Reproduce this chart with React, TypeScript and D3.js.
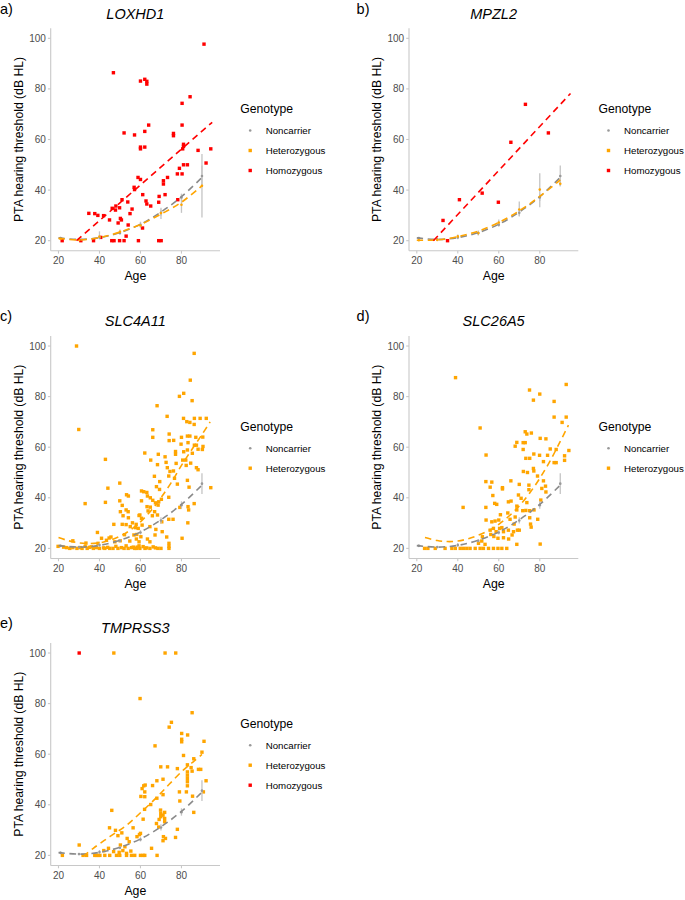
import React from "react";
import * as d3 from "d3";

// ---------- shared axes ----------
const AGE_TICKS = [20, 40, 60, 80];
const PTA_TICKS = [20, 40, 60, 80, 100];
const AGE_DOMAIN = [16.2, 98.8];
const PTA_DOMAIN = [16, 104];

// ---------- noncarrier reference (binned means ± error) ----------
const GROUP_AGE = [21, 30, 40, 50, 60, 70, 80, 90];
const NONCARRIER_MEAN = [21.0, 20.5, 21.3, 23.0, 26.3, 31.0, 37.1, 45.6];
const NONCARRIER_LO = [20.5, 20.2, 20.6, 22.4, 25.5, 29.8, 35.7, 41.5];
const NONCARRIER_HI = [21.5, 20.8, 22.1, 23.6, 27.2, 32.3, 38.6, 49.7];
const FIT_AGE = [20, 30, 40, 50, 60, 70, 80, 90];
const NONCARRIER_FIT = [21.1, 20.5, 21.2, 23.2, 26.5, 31.3, 37.4, 45.0];

// ---------- LOXHD1 ----------
const LOX_HET_MEAN = [20.8, 20.3, 21.6, 23.5, 26.0, 30.9, 34.2, 41.7];
const LOX_HET_LO = [20.4, 20.0, 20.6, 22.6, 25.0, 28.6, 31.0, 29.2];
const LOX_HET_HI = [21.2, 20.6, 23.7, 24.4, 27.5, 33.0, 38.3, 54.3];
const LOX_HET_FIT = [20.9, 20.3, 21.2, 23.4, 26.4, 30.5, 35.2, 41.7];
const LOX_HOM_FIT = [[28.8, 20], [95.0, 66.8]];
const LOX_HOM = [
  [91.0, 97.7], [46.8, 86.4], [60.0, 83.1], [62.1, 83.8], [63.1, 83.0], [63.1, 81.9],
  [84.2, 76.9], [80.3, 74.3], [80.3, 65.7], [64.0, 65.7], [52.0, 62.6], [57.1, 61.8],
  [62.1, 63.2], [76.1, 62.4], [76.1, 61.5], [60.0, 57.0], [60.0, 56.3], [62.1, 57.0],
  [81.0, 58.1], [81.0, 57.3], [80.6, 56.3], [88.1, 55.7], [94.3, 56.3], [92.0, 50.7],
  [81.0, 50.0], [82.9, 50.0], [79.0, 48.6], [78.0, 46.4], [80.3, 46.4], [73.2, 45.0],
  [71.2, 43.7], [71.2, 42.4], [58.8, 45.0], [60.0, 44.2], [56.9, 41.1], [57.1, 40.2],
  [61.1, 38.2], [72.0, 38.2], [69.1, 37.5], [62.7, 35.7], [63.1, 34.5], [65.0, 33.7],
  [68.9, 35.2], [78.2, 36.2], [51.0, 36.2], [53.8, 35.3], [55.9, 32.5], [48.0, 33.7],
  [49.8, 33.0], [47.8, 32.1], [46.2, 32.8], [34.8, 30.8], [37.7, 30.7], [39.2, 30.0],
  [42.0, 29.9], [44.9, 28.2], [50.2, 28.8], [50.7, 28.2], [54.9, 30.7], [49.1, 27.0],
  [54.0, 26.2], [53.0, 21.8], [61.0, 25.0], [40.6, 21.3], [21.8, 20.0], [30.9, 20.0],
  [37.1, 20.0], [46.0, 20.0], [47.1, 20.0], [49.8, 20.0], [52.0, 20.0], [59.0, 20.0],
  [68.9, 20.0], [70.1, 20.0],
];

// ---------- MPZL2 ----------
const MPZ_HET_MEAN = [20.2, 20.3, 21.7, 23.0, 27.2, 32.3, 40.2, 42.5];
const MPZ_HET_LO = [19.9, 20.0, 21.0, 22.0, 26.0, 29.6, 33.2, 41.5];
const MPZ_HET_HI = [20.5, 20.6, 22.4, 24.0, 28.4, 35.5, 46.7, 43.5];
const MPZ_HET_FIT = [20.2, 20.3, 21.6, 23.8, 27.2, 31.8, 37.5, 44.0];
const MPZ_HOM_FIT = [[28.1, 20], [95.0, 78.2]];
const MPZ_HOM = [
  [32.8, 28.0], [40.8, 36.2], [35.0, 20.0], [51.9, 38.8], [59.8, 35.2],
  [65.9, 58.9], [73.0, 73.9], [84.2, 62.6],
];

// ---------- SLC4A11 ----------
const SLC4_FIT = [
  [20, 24.3], [25, 23.0], [30, 22.2], [35, 21.9], [40, 22.2], [45, 23.2], [50, 24.8],
  [55, 27.2], [60, 30.5], [65, 34.8], [70, 40.0], [75, 46.0], [80, 52.8], [85, 59.0],
  [90, 65.0], [94, 70.0],
];
const SLC4_HET = [
  [28.8, 100.0], [29.9, 67.0], [42.9, 55.2], [44.1, 43.8], [42.9, 38.2], [33.0, 37.7],
  [49.9, 45.8], [53.2, 41.2], [54.1, 40.7], [49.9, 38.8], [51.1, 37.0], [50.2, 34.5],
  [53.0, 35.2], [54.0, 34.5], [51.5, 32.9], [54.1, 32.1], [47.0, 29.5], [51.1, 29.5],
  [53.0, 29.4], [56.1, 30.1], [55.0, 28.6], [57.6, 28.2], [59.3, 33.0], [39.0, 26.3],
  [41.0, 24.0], [45.6, 24.5], [44.7, 24.1], [50.1, 23.0], [52.2, 25.4], [56.8, 25.3],
  [27.0, 23.0], [19.8, 20.8], [23.9, 20.3], [27.0, 20.3], [33.4, 22.1], [39.3, 22.0],
  [43.4, 23.2], [47.5, 22.6], [54.8, 22.9], [58.0, 23.7],
  [29.0, 20.0], [30.5, 20.3], [33.0, 20.8], [34.0, 20.0], [35.0, 20.4], [37.0, 20.0],
  [38.5, 20.3], [40.0, 20.0], [42.0, 20.2], [42.6, 20.0], [44.0, 20.4], [46.6, 20.0],
  [48.0, 20.8], [49.0, 20.0], [50.7, 20.3], [53.0, 21.0], [54.0, 20.0], [55.7, 20.3],
  [57.2, 20.0], [58.4, 20.5], [59.3, 21.0],
  [86.2, 97.1], [84.3, 86.5], [79.0, 80.1], [81.1, 81.3], [85.2, 78.4], [68.1, 76.4],
  [73.0, 72.2], [81.0, 71.4], [82.6, 70.1], [84.1, 69.8], [86.3, 71.4], [86.2, 69.0],
  [89.1, 71.4], [92.1, 71.4], [66.0, 66.9], [66.0, 63.9], [74.0, 65.2], [74.0, 62.6],
  [76.2, 62.7], [80.0, 63.9], [82.9, 64.4], [84.1, 64.4], [87.0, 63.9], [90.4, 64.0],
  [87.3, 60.8], [90.5, 60.3], [90.2, 59.1], [83.2, 61.8], [79.8, 61.2], [77.1, 58.3],
  [77.1, 57.2], [62.1, 57.7], [68.7, 57.2], [81.1, 58.2], [82.9, 58.9], [85.3, 57.6],
  [86.3, 60.8], [88.1, 59.2], [65.0, 54.9], [72.0, 56.2], [72.5, 54.0], [80.6, 54.9],
  [82.1, 54.9], [84.5, 53.7], [68.3, 53.1], [73.1, 51.9], [74.4, 50.4], [76.1, 50.6],
  [77.4, 53.6], [82.3, 52.8], [87.3, 51.9], [88.1, 51.1], [66.8, 48.5], [73.8, 48.6],
  [76.6, 47.7], [69.4, 46.4], [67.8, 44.4], [69.3, 43.3], [78.0, 45.4], [82.9, 46.9],
  [83.7, 44.2], [60.5, 42.7], [61.6, 42.4], [63.1, 42.1], [64.8, 40.0], [66.0, 39.0],
  [67.3, 38.0], [68.6, 37.1], [68.9, 38.4], [73.8, 40.2], [63.4, 40.7], [60.5, 38.8],
  [70.2, 39.4], [79.2, 36.2], [83.2, 36.5], [83.5, 35.2], [86.2, 37.7], [63.2, 36.5],
  [64.8, 36.3], [66.9, 34.5], [63.7, 34.8], [59.7, 33.2], [60.5, 31.9], [65.8, 32.9],
  [68.3, 33.2], [73.8, 31.5], [75.9, 31.5], [70.4, 30.5], [60.8, 29.2], [64.6, 28.6],
  [67.5, 27.5], [70.6, 26.6], [67.1, 25.3], [72.8, 24.5], [80.3, 24.0], [83.1, 30.1],
  [94.3, 44.0], [57.9, 29.5], [58.9, 27.9], [58.2, 25.5], [60.2, 24.6], [63.4, 23.7],
  [64.6, 22.6], [59.3, 22.6], [73.9, 22.0], [73.9, 20.8],
  [58.0, 20.0], [59.7, 20.0], [61.3, 20.7], [63.0, 20.2], [64.6, 20.0], [66.2, 20.6],
  [67.3, 20.2], [73.9, 20.0], [68.5, 20.0], [70.0, 20.0], [22.5, 20.5], [25.5, 20.0],
  [31.5, 20.0], [36.0, 20.6], [45.0, 20.0], [52.0, 20.0], [56.5, 20.5], [62.2, 20.0],
];

// ---------- SLC26A5 ----------
const SLC26_FIT = [
  [24, 24.3], [30, 23.1], [35, 22.7], [40, 22.9], [45, 23.8], [50, 25.2], [55, 27.0],
  [60, 29.5], [65, 32.8], [70, 36.8], [75, 41.8], [80, 47.7], [85, 54.5], [90, 62.3],
  [94, 68.7],
];
const SLC26_HET = [
  [38.9, 87.5], [75.0, 82.6], [80.0, 81.0], [76.9, 78.6], [87.0, 78.1], [92.9, 84.8],
  [87.0, 71.9], [92.9, 71.9], [90.9, 69.8], [50.9, 67.6], [72.9, 66.1], [75.9, 65.6],
  [73.7, 65.2], [68.8, 61.9], [71.9, 61.8], [72.9, 61.8], [80.2, 63.5], [83.0, 63.3],
  [68.0, 60.4], [71.9, 59.1], [85.1, 59.3], [88.0, 59.1], [94.2, 58.7], [92.1, 56.6],
  [77.1, 57.3], [79.9, 56.8], [83.8, 56.8], [73.2, 55.6], [75.1, 55.6], [92.1, 54.8],
  [53.8, 56.9], [76.9, 51.6], [77.1, 50.6], [81.8, 54.3], [87.0, 53.9], [88.0, 53.9],
  [72.0, 50.4], [74.0, 50.0], [53.7, 46.4], [56.6, 46.2], [55.8, 44.2], [61.8, 43.5],
  [61.8, 44.0], [65.9, 46.7], [70.0, 45.3], [74.7, 45.0], [81.8, 46.7], [81.0, 43.7],
  [82.8, 44.6], [78.9, 48.6], [57.1, 40.9], [74.7, 43.2], [69.6, 41.1], [64.7, 38.4],
  [66.0, 38.7], [58.0, 37.8], [59.0, 37.4], [53.7, 36.2], [42.6, 36.2], [70.9, 39.8],
  [73.7, 38.1], [83.0, 42.3], [80.5, 39.1], [71.7, 34.9], [68.8, 35.2], [68.8, 36.7],
  [73.2, 35.0], [75.1, 34.9], [77.2, 35.2], [64.4, 34.0], [60.8, 33.3], [53.8, 31.2],
  [56.6, 30.5], [58.2, 30.8], [60.0, 31.2], [68.0, 32.4], [75.1, 32.1], [79.0, 31.5],
  [75.5, 29.6], [75.8, 28.4], [65.5, 31.5], [67.5, 29.6], [69.1, 27.2], [70.0, 27.2],
  [55.8, 27.2], [57.4, 27.9], [60.4, 27.9], [61.5, 28.2], [58.7, 26.6], [62.3, 26.6],
  [64.7, 27.2], [67.2, 26.6], [56.1, 25.5], [52.0, 24.6], [57.6, 24.7], [59.6, 24.0],
  [62.3, 24.2], [64.8, 23.7], [66.5, 25.3], [68.8, 21.6], [80.2, 21.7], [50.1, 22.0],
  [51.7, 22.9], [53.3, 21.6],
  [23.8, 20.0], [25.4, 20.0], [29.0, 20.0], [33.8, 20.0], [37.1, 20.0], [38.8, 20.0],
  [41.2, 20.0], [42.8, 20.0], [44.4, 20.0], [46.0, 20.0], [48.5, 20.0], [50.9, 20.0],
  [52.5, 20.0], [55.0, 20.0], [57.4, 20.0], [59.6, 20.0], [61.5, 20.0], [63.9, 20.0],
];

// ---------- TMPRSS3 ----------
const TMP_FIT = [
  [32, 19.6], [37, 22.8], [45, 27.4], [53, 31.8], [61, 37.6], [68, 43.0], [74, 48.1],
  [81, 53.8], [86, 57.2], [90, 59.9],
];
const TMP_HOM = [[30.1, 100.0]];
const TMP_HET = [
  [47.0, 100.0], [72.0, 100.0], [77.2, 100.0], [59.8, 82.0], [85.2, 76.4], [75.1, 72.6],
  [74.0, 70.7], [80.1, 68.2], [80.1, 65.9], [80.1, 64.9], [83.0, 67.6], [91.0, 65.1],
  [67.1, 63.3], [81.0, 59.5], [90.0, 60.8], [86.0, 58.2], [88.3, 54.0], [89.4, 54.0],
  [69.9, 55.0], [73.2, 55.0], [78.0, 54.3], [82.9, 55.8], [84.7, 54.7], [82.9, 53.0],
  [82.9, 51.7], [82.9, 50.4], [82.9, 49.1], [82.9, 47.5], [85.2, 53.3], [71.0, 50.1],
  [68.0, 49.5], [65.9, 47.6], [61.6, 47.5], [62.3, 47.8], [60.8, 46.4], [62.1, 45.1],
  [62.1, 43.2], [60.2, 43.3], [71.0, 44.0], [68.0, 42.6], [79.0, 45.1], [82.4, 45.1],
  [92.0, 49.5], [79.2, 41.5], [86.0, 37.0], [85.4, 43.4], [90.7, 45.1], [65.0, 40.1],
  [62.0, 38.2], [69.8, 37.9], [71.8, 37.0], [69.9, 36.6], [71.0, 35.9], [69.9, 35.3],
  [71.8, 34.6], [69.1, 34.2], [71.8, 33.3], [67.8, 32.6], [68.9, 31.2], [71.2, 27.4],
  [72.2, 26.7], [71.0, 25.8], [78.0, 30.3], [77.1, 27.1], [46.0, 37.8], [44.9, 30.9],
  [47.8, 29.9], [49.0, 27.8], [50.9, 28.9], [56.4, 30.9], [61.3, 34.3], [59.5, 28.2],
  [58.3, 27.4], [60.0, 28.7], [53.5, 26.7], [54.5, 25.4], [50.2, 24.1], [44.4, 22.8],
  [42.1, 21.9], [52.4, 23.4], [55.3, 21.7], [65.4, 22.8], [30.1, 24.1], [46.9, 21.5],
  [49.6, 21.2], [51.4, 21.9], [53.2, 20.8],
  [21.9, 20.0], [32.0, 20.0], [33.7, 20.0], [37.7, 20.0], [38.5, 20.0], [39.4, 20.0],
  [40.2, 20.0], [42.6, 20.0], [45.0, 20.0], [48.3, 20.0], [49.9, 20.0], [53.2, 20.0],
  [55.6, 20.0], [57.2, 20.0], [60.0, 20.0], [61.3, 20.0], [62.1, 20.0], [68.1, 20.0],
];

// ---------- style ----------
const C_NON = "#999999";
const C_NON_LINE = "#8a8a8a";
const C_HET = "#FFA500";
const C_HOM = "#FF0000";
const C_ERR = "#c4c4c4";
const C_AXIS = "#c8c8c8";
const FONT = "'Liberation Sans', Arial, Helvetica, sans-serif";
const W = 169.3;
const H = 222.6;

type Pt = number[];

function Panel(props: any) {
  const { label, title, left, top, hetPts, homPts, hetMean, hetLo, hetHi, hetFit, homFit, legend } = props;
  const x = d3.scaleLinear().domain(AGE_DOMAIN).range([left, left + W]);
  const y = d3.scaleLinear().domain(PTA_DOMAIN).range([top + H, top]);
  const bottom = top + H;
  const line = d3
    .line<Pt>()
    .x((d) => x(d[0]))
    .y((d) => y(d[1]))
    .curve(d3.curveCatmullRom);
  const straight = d3
    .line<Pt>()
    .x((d) => x(d[0]))
    .y((d) => y(d[1]));
  const nonFit = FIT_AGE.map((a, i) => [a, NONCARRIER_FIT[i]]);
  const sq = 3.4;
  const cy = top + H / 2;
  const n = legend.length;
  const entryY = (i: number) => cy + (i - (n - 1) / 2) * 20 + 11;
  const dash = "6.5 4.5";

  return (
    <g>
      <text x={left - 50.7 + (left > 300 ? -1.7 : 0)} y={top - 14.5} fontSize={14.5} fontFamily={FONT} fill="#000">
        {label}
      </text>
      <text x={left + W / 2} y={top - 9.5} fontSize={14.5} fontStyle="italic" textAnchor="middle" fontFamily={FONT} fill="#000">
        {title}
      </text>
      {/* axes */}
      <line x1={left} x2={left} y1={top} y2={bottom} stroke={C_AXIS} strokeWidth={1.1} />
      <line x1={left} x2={left + W} y1={bottom} y2={bottom} stroke={C_AXIS} strokeWidth={1.1} />
      {PTA_TICKS.map((t) => (
        <g key={"y" + t}>
          <line x1={left - 2.8} x2={left} y1={y(t)} y2={y(t)} stroke={C_AXIS} strokeWidth={1.1} />
          <text x={left - 4.8} y={y(t) + 3.5} fontSize={10} textAnchor="end" fill="#4d4d4d" fontFamily={FONT}>
            {t}
          </text>
        </g>
      ))}
      {AGE_TICKS.map((t) => (
        <g key={"x" + t}>
          <line x1={x(t)} x2={x(t)} y1={bottom} y2={bottom + 2.8} stroke={C_AXIS} strokeWidth={1.1} />
          <text x={x(t)} y={bottom + 13.5} fontSize={10} textAnchor="middle" fill="#4d4d4d" fontFamily={FONT}>
            {t}
          </text>
        </g>
      ))}
      <text x={left + W / 2} y={bottom + 29} fontSize={12.3} textAnchor="middle" fontFamily={FONT} fill="#000">
        Age
      </text>
      <text
        transform={`translate(${left - 28.2},${cy}) rotate(-90)`}
        fontSize={12.2}
        textAnchor="middle"
        fontFamily={FONT}
        fill="#000"
      >
        PTA hearing threshold (dB HL)
      </text>

      {/* heterozygous scatter */}
      {hetPts &&
        hetPts.map((d: Pt, i: number) => (
          <rect key={"h" + i} x={x(d[0]) - sq / 2} y={y(d[1]) - sq / 2} width={sq} height={sq} fill={C_HET} />
        ))}
      {/* homozygous scatter */}
      {homPts &&
        homPts.map((d: Pt, i: number) => (
          <rect key={"o" + i} x={x(d[0]) - sq / 2} y={y(d[1]) - sq / 2} width={sq} height={sq} fill={C_HOM} />
        ))}

      {/* error bars */}
      {hetMean &&
        GROUP_AGE.map((a, i) => (
          <line key={"he" + i} x1={x(a)} x2={x(a)} y1={y(hetLo[i])} y2={y(hetHi[i])} stroke={C_ERR} strokeWidth={1.3} />
        ))}
      {GROUP_AGE.map((a, i) => (
        <line key={"ne" + i} x1={x(a)} x2={x(a)} y1={y(NONCARRIER_LO[i])} y2={y(NONCARRIER_HI[i])} stroke={C_ERR} strokeWidth={1.3} />
      ))}
      {GROUP_AGE.map((a, i) => (
        <circle key={"np" + i} cx={x(a)} cy={y(NONCARRIER_MEAN[i])} r={1.3} fill={C_NON} />
      ))}
      {hetMean &&
        GROUP_AGE.map((a, i) => <circle key={"hp" + i} cx={x(a)} cy={y(hetMean[i])} r={1.3} fill={C_HET} />)}

      {/* fits */}
      <path d={line(nonFit) || ""} fill="none" stroke={C_NON_LINE} strokeWidth={1.6} strokeDasharray={dash} />
      {hetFit && <path d={line(hetFit) || ""} fill="none" stroke={C_HET} strokeWidth={1.6} strokeDasharray={dash} />}
      {homFit && <path d={straight(homFit) || ""} fill="none" stroke={C_HOM} strokeWidth={1.6} strokeDasharray={dash} />}

      {/* legend */}
      <text x={left + 189.5} y={entryY(0) - 17.5} fontSize={12.2} fontFamily={FONT} fill="#000">
        Genotype
      </text>
      {legend.map((name: string, i: number) => {
        const ky = entryY(i);
        const kx = left + 199.5;
        return (
          <g key={name}>
            {name === "Noncarrier" ? (
              <circle cx={kx} cy={ky} r={1.3} fill={C_NON} />
            ) : (
              <rect x={kx - sq / 2} y={ky - sq / 2} width={sq} height={sq} fill={name === "Heterozygous" ? C_HET : C_HOM} />
            )}
            <text x={left + 215} y={ky + 3.5} fontSize={9.7} fontFamily={FONT} fill="#000">
              {name}
            </text>
          </g>
        );
      })}
    </g>
  );
}

const LEG3 = ["Noncarrier", "Heterozygous", "Homozygous"];
const LEG2 = ["Noncarrier", "Heterozygous"];

export default function App() {
  const toPts = (ages: number[], vals: number[]) => ages.map((a, i) => [a, vals[i]]);
  return (
    <div style={{ position: "absolute", left: 0, top: 0 }}>
      <svg width={685} height={900} style={{ display: "block", background: "#fff" }}>
        <Panel
          label="a)"
          title="LOXHD1"
          left={50.7}
          top={28.2}
          homPts={LOX_HOM}
          hetMean={LOX_HET_MEAN}
          hetLo={LOX_HET_LO}
          hetHi={LOX_HET_HI}
          hetFit={toPts(FIT_AGE, LOX_HET_FIT)}
          homFit={LOX_HOM_FIT}
          legend={LEG3}
        />
        <Panel
          label="b)"
          title="MPZL2"
          left={409}
          top={28.2}
          homPts={MPZ_HOM}
          hetMean={MPZ_HET_MEAN}
          hetLo={MPZ_HET_LO}
          hetHi={MPZ_HET_HI}
          hetFit={toPts(FIT_AGE, MPZ_HET_FIT)}
          homFit={MPZ_HOM_FIT}
          legend={LEG3}
        />
        <Panel label="c)" title="SLC4A11" left={50.7} top={335.9} hetPts={SLC4_HET} hetFit={SLC4_FIT} legend={LEG2} />
        <Panel label="d)" title="SLC26A5" left={409} top={335.9} hetPts={SLC26_HET} hetFit={SLC26_FIT} legend={LEG2} />
        <Panel
          label="e)"
          title="TMPRSS3"
          left={50.7}
          top={642.9}
          hetPts={TMP_HET}
          homPts={TMP_HOM}
          hetFit={TMP_FIT}
          legend={LEG3}
        />
      </svg>
    </div>
  );
}
